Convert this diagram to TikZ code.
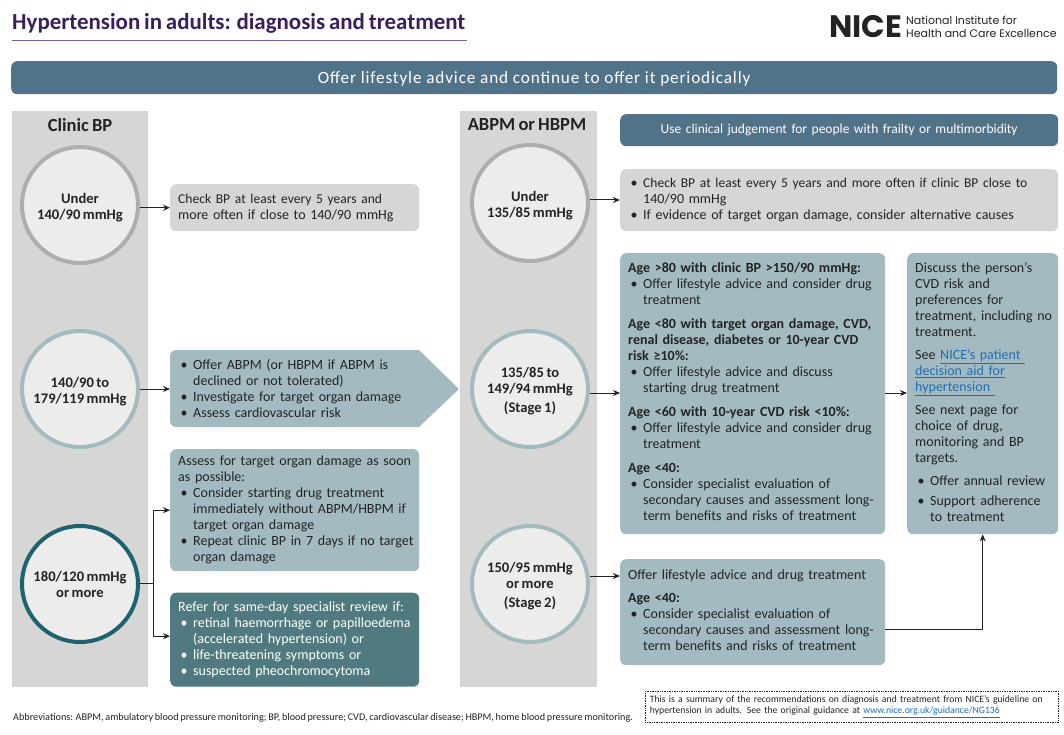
\documentclass[tikz,border=0pt]{standalone}
\usepackage{fontspec}
\setmainfont[WordSpace=0.75]{Carlito}
\newfontfamily\logofont{Poppins}
\newfontfamily\spacedfont[LetterSpace=5]{Carlito}
\usetikzlibrary{arrows.meta}
\definecolor{ink}{HTML}{232323}
\definecolor{titlec}{HTML}{3A1F5C}
\definecolor{rulec}{HTML}{7F5C96}
\definecolor{bannerc}{HTML}{51738A}
\definecolor{greyc}{HTML}{D6D6D5}
\definecolor{paleteal}{HTML}{A3BBC0}
\definecolor{darkteal}{HTML}{4F7A80}
\definecolor{rimgrey}{HTML}{AEAEAE}
\definecolor{rimdark}{HTML}{1D626E}
\definecolor{discfill}{HTML}{ECECEB}
\definecolor{linkc}{HTML}{1F6DB5}
\newcommand\bul{\makebox[15pt][l]{\hspace{2.5pt}\textbullet}}
\newcommand\cont{\hspace*{15pt}}
\newcommand\lnk[1]{\textcolor{linkc}{\underline{#1}}}
\newcommand\dn{\rule{0pt}{15pt}}
\newcommand\tight[1]{{\fontsize{13.55}{16}\selectfont #1}}
\tikzset{
  x=1pt,y=-1pt,
  txt/.style={font=\fontsize{14}{16}\selectfont,text=ink},
  boxn/.style 2 args={txt,anchor=north west,rectangle,rounded corners=6pt,inner xsep=4pt,inner ysep=0pt,
     minimum width=#1pt,minimum height=#2pt,text width=#1-8,align=left},
  disc/.style={circle,line width=4pt,fill=discfill,minimum size=116pt,inner sep=0pt,align=center,
     font=\fontsize{14.6}{16}\selectfont\bfseries,text=ink},
  band/.style={fill=greyc,anchor=north west,minimum width=136pt,minimum height=576pt,inner sep=0pt,rectangle},
  head/.style={font=\fontsize{18.5}{19}\selectfont\bfseries,text=ink,inner sep=0pt},
  link/.style={-{Stealth[length=7pt,width=6pt]},line width=1pt,color=ink},
}
\begin{document}
\begin{tikzpicture}
\useasboundingbox (0,0) rectangle (1064,735);
\fill[white] (0,0) rectangle (1064,735);
% title
\node[anchor=base west,inner sep=0pt,font=\fontsize{22.9}{26}\selectfont\bfseries,text=titlec] (title) at (12,30) {Hypertension in adults: diagnosis and treatment};
\coordinate (ruleL) at (12,40);
\coordinate (ruleR) at (467,40);
\draw[rulec,line width=0.8pt] (ruleL) -- (ruleR);
% logo
\node[anchor=base west,inner sep=0pt,font=\fontsize{31}{31}\logofont\bfseries,text=ink] (nice) at (829,37.5) {NICE};
\node[anchor=north west,inner sep=0pt,align=left,font=\fontsize{11}{12.5}\logofont,text=ink] (nice2) at (906,16) {National Institute for\\Health and Care Excellence};
% banner
\node[anchor=north west,rectangle,rounded corners=6pt,fill=bannerc,minimum width=1046pt,minimum height=33pt,inner sep=0pt,
  font=\fontsize{17.2}{19}\spacedfont,text=white] (banner) at (11,61) {\rule{0pt}{14pt}Offer lifestyle advice and continue to offer it periodically};
% bands
\node[band] (bandL) at (12,111) {};
\node[band,minimum width=137pt] (bandR) at (460,111) {};
\node[head] (hL) at (80,125) {Clinic BP};
\node[head] (hR) at (527,125) {ABPM or HBPM};
% discs
\node[disc,draw=rimgrey] (c1) at (80,205) {\dn Under\\140/90 mmHg};
\node[disc,draw=paleteal] (c2) at (80,389) {\dn 140/90 to\\179/119 mmHg};
\node[disc,draw=rimdark] (c3) at (80,584) {180/120 mmHg\\or more};
\node[disc,draw=rimgrey] (r1) at (530,203) {\dn Under\\135/85 mmHg};
\node[disc,draw=paleteal] (r2) at (530,389) {\dn 135/85 to\\149/94 mmHg\\[3pt](Stage 1)};
\node[disc,draw=paleteal] (r3) at (530,584) {\dn 150/95 mmHg\\or more\\[3pt](Stage 2)};
% left boxes
\node[boxn={249}{47},fill=greyc,xshift=0pt] (b1) at (170,184) {\hspace*{4pt}\parbox{237pt}{\tight{Check BP at least every 5 years and}\\more often if close to 140/90 mmHg}};
\fill[paleteal,rounded corners=6pt] (300,350) -- (170,350) -- (170,427) -- (300,427) [sharp corners] -- (419,427) -- (459,389) -- (419,350) -- cycle;
\node[boxn={249}{77}] (b2) at (170,350) {\hspace*{4pt}\parbox{237pt}{\bul Offer ABPM (or HBPM if ABPM is\\\cont declined or not tolerated)\\\bul Investigate for target organ damage\\\bul Assess cardiovascular risk}};
\node[boxn={249}{122},fill=paleteal] (b3) at (170,449) {\hspace*{4pt}\parbox{237pt}{Assess for target organ damage as soon\\as possible:\\\bul Consider starting drug treatment\\\cont immediately without ABPM/HBPM if\\\cont target organ damage\\\bul Repeat clinic BP in 7 days if no target\\\cont organ damage}};
\node[boxn={249}{94},fill=darkteal,text=white] (b4) at (170,592.5) {\hspace*{4pt}\parbox{237pt}{Refer for same-day specialist review if:\\\bul retinal haemorrhage or papilloedema\\\cont (accelerated hypertension) or\\\bul life-threatening symptoms or\\\bul suspected pheochromocytoma}};
% right boxes
\node[boxn={438}{32},fill=bannerc,text=white,align=center,font=\fontsize{13.5}{16}\selectfont] (use) at (620,114) {Use clinical judgement for people with frailty or multimorbidity};
\node[boxn={438}{62},fill=greyc] (g1) at (620,169) {\hspace*{4pt}\parbox{426pt}{\bul \tight{Check BP at least every 5 years and more often if clinic BP close to}\\\cont 140/90 mmHg\\\bul If evidence of target organ damage, consider alternative causes}};
\node[boxn={265}{281},fill=paleteal] (age) at (620,253) {\hspace*{4pt}\parbox{253pt}{\textbf{Age >80 with clinic BP >150/90 mmHg:}\\\bul Offer lifestyle advice and consider drug\\\cont treatment\\[8pt]\textbf{Age <80 with target organ damage, CVD,}\\\textbf{renal disease, diabetes or 10-year CVD}\\\textbf{risk ≥10\%:}\\\bul Offer lifestyle advice and discuss\\\cont starting drug treatment\\[8pt]\textbf{Age <60 with 10-year CVD risk <10\%:}\\\bul Offer lifestyle advice and consider drug\\\cont treatment\\[8pt]\textbf{Age <40:}\\\bul Consider specialist evaluation of\\\cont secondary causes and assessment long-\\\cont term benefits and risks of treatment\par\vspace{4pt}}};
\node[boxn={265}{106},fill=paleteal] (off) at (620,559) {\hspace*{4pt}\parbox{253pt}{Offer lifestyle advice and drug treatment\\[7pt]\textbf{Age <40:}\\\bul Consider specialist evaluation of\\\cont secondary causes and assessment long-\\\cont term benefits and risks of treatment\par\vspace{4pt}}};
\node[boxn={151}{281},fill=paleteal] (dis) at (907,253) {\hspace*{4pt}\parbox{139pt}{Discuss the person's\\CVD risk and\\preferences for\\treatment, including no\\treatment.\\[7pt]See \lnk{NICE's patient\ }\\\lnk{decision aid for}\\\lnk{hypertension\ }\\[7pt]See next page for\\choice of drug,\\monitoring and BP\\targets.\\[7pt]\bul Offer annual review\\[4pt]\bul Support adherence\\\cont to treatment\par\vspace{3pt}}};
% connectors
\draw[link] (c1.east |- b1.west) -- (b1.west);
\draw[link] (c2.east) -- (c2.east -| b2.west);
\coordinate (fork) at (153,583);
\draw[line width=1pt,color=ink] (c3.east |- fork) -- (fork);
\draw[link] (fork) |- ([yshift=0pt]b3.west);
\draw[link] (fork) |- ([yshift=3.5pt]b4.west);
\draw[link] ([yshift=3pt]r1.east) -- ([yshift=3pt]r1.east -| g1.west);
\draw[link] ([yshift=-4pt]r2.east) -- ([yshift=-4pt]r2.east -| age.west);
\draw[link] ([yshift=8pt]r3.east) -- ([yshift=8pt]r3.east -| off.west);
\draw[link] ([yshift=-4pt]r2.east -| age.east) -- ([yshift=-4pt]r2.east -| dis.west);
\draw[link] ([yshift=-17pt]off.east) -| (dis.south);
% footer
\node[anchor=base west,inner sep=0pt,font=\fontsize{10.2}{11}\selectfont,text=ink] (abbr) at (13,720) {Abbreviations: ABPM, ambulatory blood pressure monitoring; BP, blood pressure; CVD, cardiovascular disease; HBPM, home blood pressure monitoring.};
\node[anchor=north west,rectangle,draw=ink,densely dotted,line width=0.7pt,minimum width=413pt,minimum height=31pt,inner xsep=2pt,inner ysep=0pt,text width=409pt,align=left,font=\fontsize{9.7}{11}\selectfont,text=ink] (note) at (645,691) {\hspace*{2.5pt}\parbox{406pt}{This is a summary of the recommendations on diagnosis and treatment from NICE's guideline on\\hypertension in adults. See the original guidance at \lnk{www.nice.org.uk/guidance/NG136}}};
\end{tikzpicture}
\end{document}
